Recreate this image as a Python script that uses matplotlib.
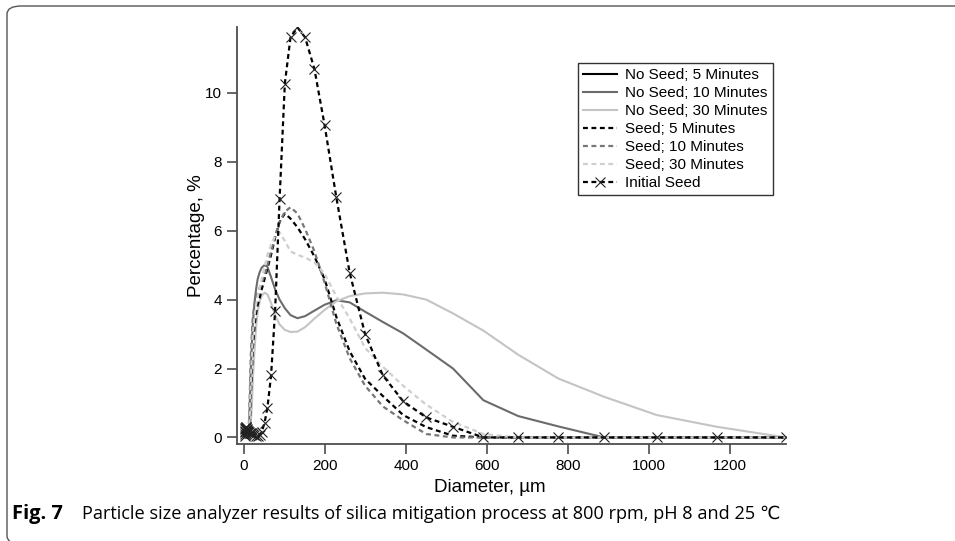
import matplotlib
matplotlib.use('Agg')
import matplotlib.pyplot as plt
from matplotlib.patches import FancyBboxPatch

# particle diameter bins (um) shared by all series
diameter = [1.9, 2.2, 2.5, 2.9, 3.3, 3.8, 4.4, 5.0, 5.8, 6.6, 7.6, 8.7,
            10, 11, 13, 15, 17, 20, 22, 26, 30, 34, 39, 44,
            51, 58, 67, 77, 88, 101, 115, 132, 151, 174, 199, 228, 261, 299, 343, 393, 450, 516,
            591, 677, 776, 889, 1019, 1167, 1337]

# percentage per bin
no_seed_5 = []  # not visible in the figure, legend entry only
no_seed_10 = [0] * 12 + [0, 0, 0.4, 1.2, 2.0, 2.8, 3.3, 3.9, 4.3, 4.6, 4.8, 4.93] + \
    [5.0, 4.95, 4.65, 4.3, 4.0, 3.75, 3.55, 3.46, 3.52, 3.68, 3.85, 3.98, 3.92, 3.65, 3.35, 3.02, 2.55, 2.0] + \
    [1.08, 0.62, 0.32, 0, 0, 0, 0]
no_seed_30 = [0] * 12 + [0, 0, 0, 0.1, 0.4, 1.0, 1.7, 2.5, 3.2, 3.65, 3.95, 4.12] + \
    [4.2, 4.15, 3.9, 3.55, 3.28, 3.12, 3.06, 3.07, 3.2, 3.45, 3.7, 3.95, 4.1, 4.18, 4.2, 4.15, 4.0, 3.6] + \
    [3.1, 2.4, 1.71, 1.18, 0.65, 0.31, 0]
seed_5 = [0] * 12 + [0, 0, 0.1, 0.5, 1.2, 2.0, 2.6, 3.2, 3.6, 3.85, 4.05, 4.3] + \
    [4.6, 4.9, 5.3, 5.8, 6.25, 6.5, 6.35, 6.1, 5.75, 5.25, 4.6, 3.5, 2.5, 1.7, 1.2, 0.65, 0.3, 0.05] + \
    [0, 0, 0, 0, 0, 0, 0]
seed_10 = [0] * 12 + [0, 0.1, 0.6, 1.5, 2.4, 3.1, 3.5, 3.85, 4.05, 4.2, 4.35, 4.5] + \
    [4.7, 5.0, 5.4, 5.85, 6.25, 6.55, 6.68, 6.5, 6.05, 5.4, 4.5, 3.3, 2.3, 1.5, 0.9, 0.5, 0.1, 0] + \
    [0, 0, 0, 0, 0, 0, 0]
seed_30 = [0] * 12 + [0, 0, 0.2, 0.8, 1.6, 2.4, 3.0, 3.5, 3.85, 4.1, 4.35, 4.6] + \
    [4.95, 5.3, 5.6, 5.85, 5.95, 5.7, 5.4, 5.3, 5.22, 5.08, 4.75, 4.1, 3.45, 2.6, 2.05, 1.5, 0.95, 0.45] + \
    [0.1, 0, 0, 0, 0, 0, 0]
initial_seed = [0.05, 0.10, 0.15, 0.20, 0.25, 0.28, 0.30, 0.30, 0.28, 0.25, 0.22, 0.20] + \
    [0.18, 0.16, 0.15, 0.14, 0.13, 0.12, 0.10, 0.08, 0.05, 0.04, 0.06, 0.16] + \
    [0.43, 0.86, 1.80, 3.68, 6.91, 10.27, 11.61, 11.90, 11.61, 10.69, 9.07, 6.97, 4.78, 3.00, 1.80, 1.05, 0.58, 0.31] + \
    [0, 0, 0, 0, 0, 0, 0]

plt.rcParams['font.family'] = ['Liberation Sans', 'DejaVu Sans']

fig = plt.figure(figsize=(9.55, 5.41), dpi=100)
ax = fig.add_axes([0.2482, 0.1793, 0.5749, 0.7708])

dash = (0, (2.2, 1.6))
ax.plot(no_seed_5, no_seed_5, color='black', lw=1.5, label='No Seed; 5 Minutes')
ax.plot(diameter, no_seed_10, color='#6b6b6b', lw=1.5, label='No Seed; 10 Minutes')
ax.plot(diameter, no_seed_30, color='#c4c4c4', lw=1.5, label='No Seed; 30 Minutes')
ax.plot(diameter, seed_5, color='black', lw=1.6, ls=dash, label='Seed; 5 Minutes')
ax.plot(diameter, seed_10, color='#777777', lw=1.6, ls=dash, label='Seed; 10 Minutes')
ax.plot(diameter, seed_30, color='#cfcfcf', lw=1.6, ls=dash, label='Seed; 30 Minutes')
ax.plot(diameter, initial_seed, color='black', lw=1.6, ls=dash, marker='x', ms=7.5,
        mew=0.8, mec='#222222', label='Initial Seed')

ax.set_xlim(-17, 1338)
ax.set_ylim(-0.19, 11.91)
ax.set_xticks(range(0, 1201, 200))
ax.set_yticks(range(0, 11, 2))
for s in ['top', 'right']:
    ax.spines[s].set_visible(False)
for s in ['left', 'bottom']:
    ax.spines[s].set_color('#4d4d4d')
    ax.spines[s].set_linewidth(1.3)
ax.tick_params(length=7, width=1.2, color='#4d4d4d', labelsize=11, pad=4)

ax.set_xlabel('Diameter, µm', fontsize=13.5)
ax.set_ylabel('Percentage, %', fontsize=13.5)
ax.xaxis.set_label_coords(0.461, -0.083)
ax.yaxis.set_label_coords(-0.058, 0.5)

leg = ax.legend(loc='upper right', bbox_to_anchor=(0.976, 0.914), borderaxespad=0,
                fontsize=11, frameon=True, fancybox=False, edgecolor='black',
                handlelength=2.2, handletextpad=0.55, labelspacing=0.26, borderpad=0.35)
leg.get_frame().set_linewidth(1.0)

# rounded frame around the figure
frame = FancyBboxPatch((7 / 955, -3 / 541), 1000 / 955, 538 / 541,
                       boxstyle='round,pad=0,rounding_size=0.015', transform=fig.transFigure,
                       fill=False, edgecolor='#555555', lw=1.0, clip_on=False)
fig.patches.append(frame)

cap_font = ['Open Sans', 'DejaVu Sans']
fig.text(12 / 955, 1 - 519 / 541, 'Fig. 7', fontsize=14.5, fontweight='bold',
         family=cap_font, va='baseline')
fig.text(82 / 955, 1 - 519 / 541,
         'Particle size analyzer results of silica mitigation process at 800 rpm, pH 8 and 25 \u2103',
         fontsize=13.1, family=cap_font, va='baseline')

fig.savefig('out.png', dpi=100)
